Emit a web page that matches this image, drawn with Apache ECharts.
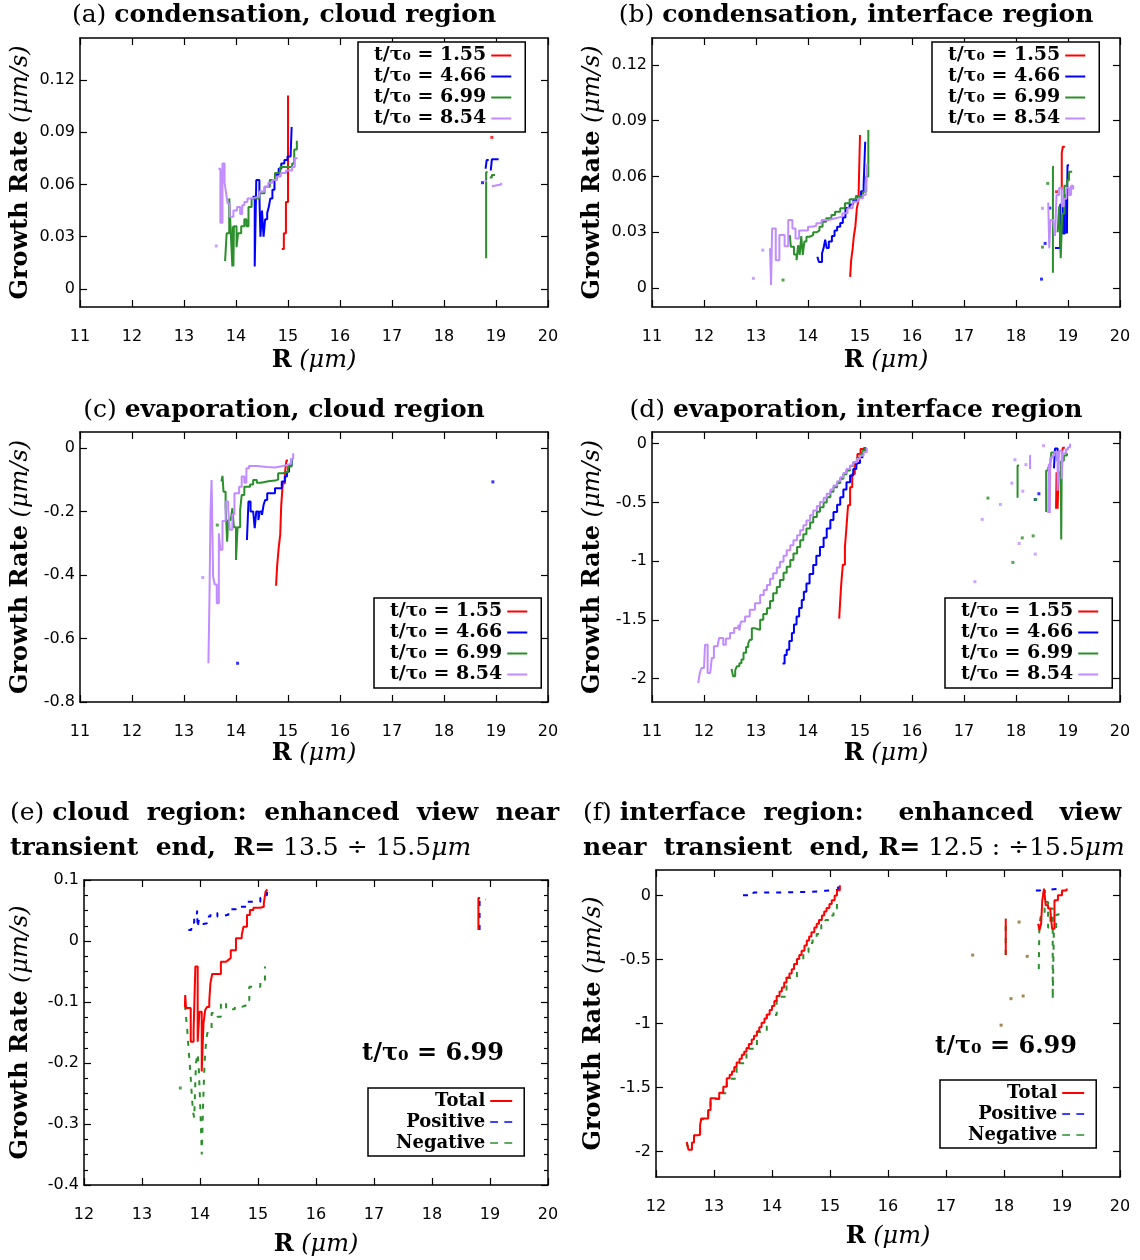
<!DOCTYPE html>
<html><head><meta charset="utf-8">
<script src="https://cdn.jsdelivr.net/npm/echarts@6/dist/echarts.min.js"></script>
<style>html,body{margin:0;padding:0;background:#fff}#c{width:1140px;height:1260px}</style>
</head><body><div id="c"></div><script>
// ---------- tick labels / categories ----------
const xTicksAD = [11,12,13,14,15,16,17,18,19,20];
const xTicksEF = [12,13,14,15,16,17,18,19,20];
const yTicksA = [0,0.03,0.06,0.09,0.12];
const yTicksB = [0,0.03,0.06,0.09,0.12];
const yTicksC = [0,-0.2,-0.4,-0.6,-0.8];
const yTicksD = [0,-0.5,-1,-1.5,-2];
const yTicksE = [0.1,0,-0.1,-0.2,-0.3,-0.4];
const yTicksF = [0,-0.5,-1,-1.5,-2];
const yMinorE = [0.075,0.05,0.025,-0.025,-0.05,-0.075,-0.125,-0.15,-0.175,-0.225,-0.25,-0.275,-0.325,-0.35,-0.375];
const timeNames = ['t/τ₀ = 1.55','t/τ₀ = 4.66','t/τ₀ = 6.99','t/τ₀ = 8.54'];
const compNames = ['Total','Positive','Negative'];

// ---------- panel (a) ----------
const a_t155 = [[[14.88,0.023],[14.92,0.032],[14.96,0.050],[15.0,0.111]]];
const a_t155_dots = [[18.92,0.087]];
const a_t466 = [
 [[14.32,0.053],[14.36,0.013],[14.39,0.0626],[14.45,0.053],[14.47,0.030],[14.50,0.045],[14.53,0.030],[14.56,0.040],[14.60,0.0436],[14.63,0.047],[14.66,0.052],[14.70,0.057],[14.74,0.0626],[14.78,0.0655],[14.82,0.069],[14.87,0.072],[14.93,0.074],[14.99,0.076],[15.05,0.076],[15.07,0.093]],
 [[18.80,0.069],[18.82,0.074],[18.86,0.074]],
 [[18.90,0.068],[18.92,0.0744],[19.05,0.0744]]];
const a_t466_dots = [[18.74,0.061]];
const a_t699 = [
 [[13.79,0.016],[13.82,0.032],[13.87,0.052],[13.90,0.032],[13.93,0.013],[13.94,0.036],[13.95,0.013],[13.96,0.036],[14.01,0.024],[14.04,0.032],[14.10,0.036],[14.16,0.040],[14.20,0.036],[14.24,0.047],[14.30,0.052],[14.37,0.052],[14.45,0.055],[14.55,0.0587],[14.65,0.0626],[14.75,0.0665],[14.85,0.070],[14.93,0.070],[15.08,0.072],[15.12,0.080],[15.17,0.085]],
 [[18.81,0.0176],[18.81,0.067],[18.84,0.067]],
 [[18.88,0.064],[18.92,0.0654],[18.98,0.0654]]];
const a_t854 = [
 [[13.66,0.069],[13.70,0.038],[13.74,0.072],[13.78,0.061],[13.81,0.055],[13.84,0.049],[13.88,0.0415],[13.95,0.045],[14.02,0.047],[14.08,0.043],[14.12,0.048],[14.16,0.050],[14.22,0.052],[14.30,0.053],[14.45,0.056],[14.55,0.0587],[14.62,0.061],[14.70,0.0626],[14.78,0.0645],[14.86,0.0665],[14.96,0.068],[15.08,0.070],[15.13,0.075],[15.17,0.0755]],
 [[18.78,0.062],[18.82,0.062]],
 [[18.92,0.059],[18.95,0.060],[19.10,0.061]]];
const a_t854_dots = [[13.62,0.0247]];

// ---------- panel (b) ----------
const b_t155 = [
 [[14.81,0.006],[14.83,0.015],[14.86,0.0215],[14.88,0.0276],[14.91,0.033],[14.94,0.043],[14.97,0.047],[15.0,0.0823]],
 [[18.88,0.0527],[18.88,0.0726],[18.90,0.076],[18.94,0.076]]];
const b_t155_dots = [[18.78,0.0518]];
const b_t466 = [
 [[14.18,0.0168],[14.21,0.014],[14.27,0.0187],[14.30,0.0215],[14.33,0.026],[14.36,0.0215],[14.40,0.025],[14.46,0.028],[14.51,0.031],[14.56,0.033],[14.62,0.035],[14.67,0.038],[14.72,0.043],[14.80,0.045],[14.87,0.0473],[14.96,0.049],[15.02,0.052],[15.07,0.0554],[15.10,0.0787]],
 [[18.75,0.0215],[18.80,0.0215],[18.85,0.045],[18.90,0.0294],[18.94,0.05],[18.98,0.0294],[18.99,0.066],[19.02,0.066]]];
const b_t466_dots = [[18.49,0.0048],[18.56,0.024],[18.65,0.043]];
const b_t699 = [
 [[13.65,0.0285],[13.67,0.0222],[13.73,0.018],[13.78,0.015],[13.81,0.023],[13.84,0.0178],[13.87,0.028],[13.90,0.0178],[13.93,0.025],[13.97,0.0276],[14.03,0.0285],[14.10,0.030],[14.17,0.031],[14.22,0.033],[14.28,0.0357],[14.35,0.0375],[14.45,0.0393],[14.52,0.041],[14.62,0.0429],[14.71,0.0456],[14.80,0.0477],[14.92,0.0495],[15.06,0.0518],[15.12,0.060],[15.16,0.085]],
 [[18.71,0.0082],[18.71,0.0653],[18.73,0.0653]],
 [[18.80,0.030],[18.83,0.044],[18.86,0.016],[18.89,0.040],[18.93,0.055],[18.98,0.058],[19.02,0.0626],[19.08,0.0626]]];
const b_t699_dots = [[13.52,0.0043],[18.61,0.0563],[18.51,0.022]];
const b_t854 = [
 [[13.27,0.0214],[13.29,0.0016],[13.31,0.032],[13.38,0.015],[13.45,0.0285],[13.55,0.0225],[13.62,0.0366],[13.70,0.032],[13.76,0.0267],[13.83,0.031],[13.92,0.031],[14.00,0.033],[14.08,0.0335],[14.16,0.0348],[14.26,0.0366],[14.40,0.0375],[14.53,0.0384],[14.66,0.0402],[14.76,0.0429],[14.86,0.0464],[14.96,0.0483],[15.06,0.050],[15.11,0.053],[15.14,0.067]],
 [[18.62,0.046],[18.64,0.0214],[18.66,0.0366],[18.72,0.035],[18.75,0.028],[18.78,0.050],[18.83,0.054],[18.88,0.044],[18.92,0.048],[18.97,0.054],[19.02,0.050],[19.06,0.055],[19.10,0.053]]];
const b_t854_dots = [[13.13,0.0204],[12.95,0.0052],[18.51,0.0429]];

// ---------- panel (c) ----------
const c_t155 = [[[14.77,-0.434],[14.79,-0.374],[14.82,-0.316],[14.85,-0.274],[14.87,-0.18],[14.90,-0.111],[14.94,-0.08],[14.97,-0.040],[15.0,-0.040]]];
const c_t466 = [[[14.21,-0.29],[14.24,-0.169],[14.28,-0.20],[14.33,-0.20],[14.36,-0.253],[14.39,-0.20],[14.43,-0.227],[14.46,-0.20],[14.50,-0.211],[14.53,-0.18],[14.56,-0.164],[14.60,-0.143],[14.70,-0.143],[14.75,-0.127],[14.83,-0.127],[14.88,-0.106],[14.94,-0.09],[14.98,-0.075],[15.02,-0.055],[15.07,-0.0325]]];
const c_t466_dots = [[14.03,-0.678],[18.94,-0.107]];
const c_t699 = [[[13.72,-0.106],[13.74,-0.088],[13.76,-0.138],[13.80,-0.185],[13.83,-0.295],[13.85,-0.227],[13.90,-0.227],[13.93,-0.19],[13.96,-0.25],[14.00,-0.353],[14.03,-0.25],[14.08,-0.195],[14.11,-0.148],[14.16,-0.122],[14.27,-0.115],[14.33,-0.101],[14.40,-0.11],[14.48,-0.105],[14.62,-0.103],[14.75,-0.10],[14.81,-0.08],[14.90,-0.075],[15.0,-0.059],[15.07,-0.04]]];
const c_t699_dots = [[13.64,-0.243]];
const c_t854 = [[[13.47,-0.678],[13.49,-0.468],[13.51,-0.2],[13.53,-0.101],[13.56,-0.405],[13.59,-0.43],[13.63,-0.489],[13.67,-0.269],[13.70,-0.321],[13.74,-0.23],[13.80,-0.169],[13.85,-0.19],[13.88,-0.258],[13.93,-0.21],[13.97,-0.143],[14.06,-0.122],[14.11,-0.09],[14.16,-0.11],[14.20,-0.064],[14.25,-0.057],[14.40,-0.06],[14.60,-0.062],[14.75,-0.057],[14.90,-0.053],[15.0,-0.05],[15.06,-0.035],[15.10,-0.017]]];
const c_t854_dots = [[13.36,-0.408]];

// ---------- panel (d) ----------
const d_t155 = [
 [[14.60,-1.49],[14.62,-1.33],[14.64,-1.19],[14.67,-1.03],[14.71,-0.879],[14.74,-0.709],[14.77,-0.525],[14.81,-0.37],[14.85,-0.257],[14.90,-0.172],[14.95,-0.087],[15.01,-0.045],[15.08,-0.03]],
 [[18.77,-0.553],[18.78,-0.243],[18.80,-0.553],[18.82,-0.243],[18.84,-0.243]],
 [[18.88,-0.087],[18.90,-0.035],[18.94,-0.035]]];
const d_t466 = [
 [[13.51,-1.873],[13.55,-1.80],[13.59,-1.754],[13.64,-1.68],[13.69,-1.613],[13.73,-1.54],[13.78,-1.472],[13.83,-1.40],[13.88,-1.331],[13.92,-1.26],[13.97,-1.19],[14.03,-1.11],[14.10,-1.034],[14.16,-0.955],[14.23,-0.879],[14.30,-0.80],[14.36,-0.723],[14.43,-0.65],[14.49,-0.582],[14.56,-0.52],[14.62,-0.455],[14.68,-0.39],[14.74,-0.328],[14.81,-0.27],[14.87,-0.215],[14.93,-0.165],[15.0,-0.116],[15.05,-0.07],[15.10,-0.027]],
 [[18.73,-0.21],[18.75,-0.04],[18.78,-0.04],[18.80,-0.15],[18.82,-0.08]]];
const d_t466_dots = [[18.44,-0.426],[18.37,-0.475]];
const d_t699 = [
 [[12.53,-1.918],[12.56,-1.98],[12.60,-1.93],[12.63,-1.896],[12.68,-1.87],[12.72,-1.839],[12.76,-1.78],[12.81,-1.732],[12.85,-1.70],[12.88,-1.67],[12.92,-1.571],[12.97,-1.58],[13.04,-1.585],[13.08,-1.50],[13.14,-1.45],[13.21,-1.401],[13.27,-1.34],[13.33,-1.274],[13.40,-1.22],[13.46,-1.161],[13.53,-1.10],[13.59,-1.048],[13.66,-0.99],[13.72,-0.935],[13.79,-0.88],[13.85,-0.822],[13.91,-0.77],[13.97,-0.723],[14.04,-0.67],[14.10,-0.625],[14.17,-0.58],[14.23,-0.540],[14.30,-0.50],[14.36,-0.455],[14.43,-0.41],[14.49,-0.370],[14.56,-0.335],[14.62,-0.299],[14.68,-0.26],[14.74,-0.229],[14.81,-0.19],[14.87,-0.158],[14.94,-0.12],[15.0,-0.087],[15.05,-0.06],[15.10,-0.03]],
 [[18.03,-0.46],[18.03,-0.186],[18.06,-0.186]],
 [[18.58,-0.582],[18.58,-0.229],[18.62,-0.20],[18.66,-0.17],[18.68,-0.074],[18.75,-0.074]],
 [[18.86,-0.144],[18.87,-0.816],[18.88,-0.144],[18.92,-0.10],[18.98,-0.08]]];
const d_t699_dots = [[17.46,-0.463],[18.12,-0.802],[18.33,-0.785],[17.94,-1.011],[18.38,-0.475]];
const d_t854 = [
 [[11.89,-2.037],[11.92,-1.952],[11.95,-1.91],[12.0,-1.896],[12.02,-1.712],[12.05,-1.712],[12.07,-1.952],[12.12,-1.952],[12.15,-1.825],[12.19,-1.726],[12.26,-1.726],[12.29,-1.655],[12.33,-1.655],[12.37,-1.712],[12.42,-1.66],[12.50,-1.613],[12.58,-1.57],[12.66,-1.542],[12.68,-1.59],[12.71,-1.514],[12.79,-1.472],[12.88,-1.415],[12.98,-1.359],[13.08,-1.288],[13.15,-1.245],[13.21,-1.203],[13.27,-1.15],[13.33,-1.104],[13.40,-1.055],[13.46,-1.006],[13.53,-0.955],[13.59,-0.907],[13.66,-0.865],[13.72,-0.822],[13.79,-0.78],[13.85,-0.737],[13.91,-0.695],[13.97,-0.653],[14.04,-0.61],[14.10,-0.568],[14.17,-0.53],[14.23,-0.497],[14.30,-0.46],[14.36,-0.426],[14.43,-0.39],[14.49,-0.356],[14.56,-0.32],[14.62,-0.285],[14.68,-0.25],[14.74,-0.215],[14.81,-0.185],[14.87,-0.158],[14.94,-0.13],[15.0,-0.102],[15.07,-0.07],[15.13,-0.037]],
 [[18.27,-0.215],[18.27,-0.102],[18.29,-0.102]],
 [[18.62,-0.59],[18.63,-0.17],[18.65,-0.59],[18.66,-0.12],[18.70,-0.10],[18.74,-0.07],[18.80,-0.40],[18.83,-0.06],[18.88,-0.30],[18.90,-0.08],[18.96,-0.05],[19.00,-0.03],[19.04,0.0]]];
const d_t854_dots = [[18.53,-0.017],[17.98,-0.136],[18.19,-0.178],[17.92,-0.336],[18.13,-0.404],[17.70,-0.517],[17.35,-0.644],[18.06,-0.85],[18.37,-0.94],[17.21,-1.175]];

// ---------- panel (e) t/tau0 = 6.99 ----------
const e_total = [
 [[13.74,-0.108],[13.745,-0.0885],[13.76,-0.110],[13.84,-0.165],[13.89,-0.146],[13.92,-0.042],[13.96,-0.165],[13.99,-0.116],[14.03,-0.214],[14.06,-0.135],[14.09,-0.113],[14.12,-0.108],[14.16,-0.098],[14.18,-0.069],[14.21,-0.054],[14.36,-0.034],[14.45,-0.031],[14.49,-0.028],[14.53,-0.015],[14.62,0.0044],[14.72,0.0098],[14.75,0.0235],[14.81,0.0426],[14.86,0.0508],[14.92,0.0546],[15.04,0.0562],[15.10,0.0618],[15.13,0.0808],[15.16,0.0847]],
 [[18.80,0.018],[18.80,0.0705],[18.83,0.0705]]];
const e_pos = [
 [[13.80,0.018],[13.85,0.030],[13.90,0.045],[13.95,0.050],[13.96,0.022],[13.98,0.035],[14.01,0.028],[14.06,0.029],[14.12,0.040],[14.18,0.045],[14.24,0.046],[14.30,0.040],[14.35,0.043],[14.49,0.052],[14.62,0.056],[14.82,0.0645],[15.04,0.071],[15.12,0.075],[15.155,0.085]],
 [[18.82,0.018],[18.82,0.068],[18.92,0.068]]];
const e_neg = [
 [[13.74,-0.105],[13.76,-0.125],[13.78,-0.146],[13.80,-0.173],[13.82,-0.198],[13.84,-0.225],[13.86,-0.255],[13.88,-0.28],[13.90,-0.29],[13.93,-0.20],[13.96,-0.185],[13.98,-0.211],[14.00,-0.26],[14.02,-0.315],[14.03,-0.35],[14.05,-0.28],[14.07,-0.22],[14.09,-0.181],[14.12,-0.154],[14.15,-0.143],[14.20,-0.118],[14.30,-0.124],[14.36,-0.101],[14.45,-0.112],[14.60,-0.108],[14.72,-0.105],[14.81,-0.097],[14.85,-0.075],[15.04,-0.064],[15.12,-0.042]]];
const e_neg_dots = [[13.66,-0.241]];

// ---------- panel (f) t/tau0 = 6.99 ----------
const f_total = [
 [[12.53,-1.927],[12.56,-1.987],[12.62,-1.93],[12.655,-1.874],[12.72,-1.87],[12.76,-1.795],[12.78,-1.743],[12.86,-1.743],[12.90,-1.677],[12.94,-1.585],[13.02,-1.59],[13.09,-1.541],[13.16,-1.494],[13.22,-1.428],[13.27,-1.40],[13.31,-1.375],[13.35,-1.34],[13.39,-1.305],[13.44,-1.275],[13.48,-1.244],[13.52,-1.22],[13.56,-1.192],[13.60,-1.16],[13.65,-1.126],[13.69,-1.095],[13.74,-1.061],[13.78,-1.03],[13.82,-0.995],[13.87,-0.96],[13.91,-0.929],[13.96,-0.895],[14.0,-0.864],[14.04,-0.825],[14.08,-0.785],[14.13,-0.75],[14.17,-0.719],[14.21,-0.68],[14.25,-0.640],[14.30,-0.61],[14.34,-0.575],[14.38,-0.535],[14.43,-0.496],[14.47,-0.465],[14.51,-0.431],[14.56,-0.39],[14.60,-0.352],[14.64,-0.32],[14.68,-0.286],[14.73,-0.25],[14.77,-0.22],[14.81,-0.19],[14.86,-0.155],[14.90,-0.125],[14.94,-0.097],[14.99,-0.065],[15.03,-0.037],[15.08,0.0],[15.12,0.042],[15.17,0.081]],
 [[18.03,-0.465],[18.03,-0.181],[18.04,-0.181]],
 [[18.59,-0.22],[18.61,-0.27],[18.64,-0.22],[18.66,-0.037],[18.69,0.055],[18.72,-0.076],[18.76,-0.10],[18.80,-0.128],[18.83,-0.26],[18.87,-0.037],[18.93,0.003],[19.0,0.04],[19.08,0.055]]];
const f_pos = [
 [[13.50,0.002],[13.68,0.024],[14.14,0.029],[14.66,0.037],[14.91,0.042],[15.10,0.05],[15.14,0.076]],
 [[18.55,0.04],[18.62,0.055],[18.66,0.02],[18.70,0.045],[18.76,0.05],[18.85,0.052],[18.92,0.05]]];
const f_neg = [
 [[12.53,-1.93],[12.56,-1.99],[12.62,-1.935],[12.655,-1.878],[12.72,-1.874],[12.76,-1.80],[12.78,-1.748],[12.86,-1.748],[12.90,-1.68],[12.94,-1.59],[13.09,-1.545],[13.22,-1.432],[13.39,-1.31],[13.56,-1.197],[13.74,-1.066],[13.91,-0.934],[14.08,-0.79],[14.25,-0.645],[14.43,-0.50],[14.54,-0.443],[14.63,-0.37],[14.70,-0.33],[14.77,-0.30],[14.85,-0.23],[14.92,-0.19],[15.0,-0.155],[15.06,-0.10],[15.12,-0.05]],
 [[18.03,-0.465],[18.03,-0.181],[18.04,-0.181]],
 [[18.60,-0.575],[18.61,-0.22],[18.64,-0.15],[18.70,-0.05],[18.76,-0.25],[18.80,-0.10],[18.84,-0.81],[18.86,-0.26],[18.90,-0.15],[18.94,-0.09]]];
const f_dots = [[17.46,-0.465],[18.26,-0.207],[18.40,-0.475],[18.12,-0.806],[18.33,-0.785],[17.95,-1.013]];

// ---------- styling / layout ----------
const SERIF = '"DejaVu Serif","Liberation Serif",serif';
const SANS = '"DejaVu Sans","Liberation Sans",sans-serif';
const RED='#ff0000', BLUE='#0000ff', GREEN='#2b8f2b', PURPLE='#c08cff', BROWN='#8a6a2a';

const panels = [
 {l:80, t:38, w:468, h:269, x:[11,20], y:[-0.0103,0.144], xt:xTicksAD, yt:yTicksA, yGap:47, xGap:42},
 {l:652,t:38, w:468, h:269, x:[11,20], y:[-0.0102,0.1345], xt:xTicksAD, yt:yTicksB, yGap:47, xGap:42},
 {l:80, t:432,w:468, h:270, x:[11,20], y:[-0.8,0.05], xt:xTicksAD, yt:yTicksC, yGap:47, xGap:40},
 {l:652,t:432,w:468, h:270, x:[11,20], y:[-2.2,0.1], xt:xTicksAD, yt:yTicksD, yGap:47, xGap:40},
 {l:84, t:880,w:464, h:305, x:[12,20], y:[-0.4,0.1], xt:xTicksEF, yt:yTicksE, ym:yMinorE, yGap:51, xGap:48},
 {l:656,t:870,w:464, h:307, x:[12,20], y:[-2.2,0.2], xt:xTicksEF, yt:yTicksF, yGap:50, xGap:48}
];

const groups = [
 [ {name:timeNames[0],c:RED,segs:a_t155,dots:a_t155_dots},{name:timeNames[1],c:BLUE,segs:a_t466,dots:a_t466_dots},{name:timeNames[2],c:GREEN,segs:a_t699},{name:timeNames[3],c:PURPLE,segs:a_t854,dots:a_t854_dots} ],
 [ {name:timeNames[0],c:RED,segs:b_t155,dots:b_t155_dots},{name:timeNames[1],c:BLUE,segs:b_t466,dots:b_t466_dots},{name:timeNames[2],c:GREEN,segs:b_t699,dots:b_t699_dots},{name:timeNames[3],c:PURPLE,segs:b_t854,dots:b_t854_dots} ],
 [ {name:timeNames[0],c:RED,segs:c_t155},{name:timeNames[1],c:BLUE,segs:c_t466,dots:c_t466_dots},{name:timeNames[2],c:GREEN,segs:c_t699,dots:c_t699_dots},{name:timeNames[3],c:PURPLE,segs:c_t854,dots:c_t854_dots} ],
 [ {name:timeNames[0],c:RED,segs:d_t155},{name:timeNames[1],c:BLUE,segs:d_t466,dots:d_t466_dots},{name:timeNames[2],c:GREEN,segs:d_t699,dots:d_t699_dots},{name:timeNames[3],c:PURPLE,segs:d_t854,dots:d_t854_dots} ],
 [ {name:compNames[2],c:GREEN,segs:e_neg,dots:e_neg_dots,dash:true},{name:compNames[1],c:BLUE,segs:e_pos,dash:true},{name:compNames[0],c:RED,segs:e_total} ],
 [ {name:compNames[2],c:GREEN,segs:f_neg,dash:true,dots:f_dots,dotColor:BROWN},{name:compNames[1],c:BLUE,segs:f_pos,dash:true},{name:compNames[0],c:RED,segs:f_total} ]
];

const fmt = v => String(parseFloat((+v).toFixed(3)));
const grid=[], xAxis=[], yAxis=[], series=[];
const axisLine = {show:true,onZero:false,lineStyle:{color:'#000',width:1.5}};
const nameRich = {
 b:{fontFamily:SERIF,fontWeight:'bold',fontSize:24,color:'#000'},
 i:{fontFamily:SERIF,fontStyle:'italic',fontSize:24,color:'#000'}
};
const tick = (vals,len) => ({show:true,inside:true,length:len||7,lineStyle:{color:'#000',width:1.2},customValues:vals});
function yIdx(i){ let k=0; for(let j=0;j<i;j++){ k+= panels[j].ym?4:2; } return k; }
panels.forEach((p,i)=>{
 grid.push({left:p.l,top:p.t,width:p.w,height:p.h,show:false});
 xAxis.push({gridIndex:i,type:'value',min:p.x[0],max:p.x[1],position:'bottom',axisLine,
  axisTick:tick(p.xt),splitLine:{show:false},
  axisLabel:{show:true,customValues:p.xt,formatter:fmt,margin:22,color:'#000',fontFamily:SANS,fontSize:16},
  name:'{b|R} {i|(μm)}',nameLocation:'middle',nameGap:p.xGap,nameTextStyle:{fontSize:24,fontFamily:SERIF,rich:nameRich}});
 xAxis.push({gridIndex:i,type:'value',min:p.x[0],max:p.x[1],position:'top',axisLine,
  axisTick:tick(p.xt),splitLine:{show:false},axisLabel:{show:false}});
 yAxis.push({gridIndex:i,type:'value',min:p.y[0],max:p.y[1],position:'left',axisLine,
  axisTick:tick(p.yt),splitLine:{show:false},
  axisLabel:{show:true,customValues:p.yt,formatter:fmt,margin:5,color:'#000',fontFamily:SANS,fontSize:16},
  name:'{b|Growth Rate} {i|(μm/s)}',nameLocation:'middle',nameGap:p.yGap,nameRotate:90,nameTextStyle:{fontSize:24,fontFamily:SERIF,rich:nameRich}});
 yAxis.push({gridIndex:i,type:'value',min:p.y[0],max:p.y[1],position:'right',axisLine,
  axisTick:tick(p.yt),splitLine:{show:false},axisLabel:{show:false}});
 if(p.ym){
  ['left','right'].forEach(pos=>yAxis.push({gridIndex:i,type:'value',min:p.y[0],max:p.y[1],position:pos,
   axisLine:{show:false},axisTick:tick(p.ym,4),splitLine:{show:false},axisLabel:{show:false}}));
 }
 groups[i].forEach(g=>{
  g.segs.forEach(seg=>{
   series.push({type:'line',name:g.name,xAxisIndex:2*i,yAxisIndex:yIdx(i),data:seg,step:'end',
    symbol:'none',showSymbol:false,silent:true,
    lineStyle:{color:g.c,width:2,type:g.dash?[5,7]:'solid'},itemStyle:{color:g.c}});
  });
  if(g.dots){
   series.push({type:'scatter',name:g.name,xAxisIndex:2*i,yAxisIndex:yIdx(i),data:g.dots,symbol:'rect',symbolSize:3,silent:true,
    itemStyle:{color:g.dotColor||g.c}});
  }
 });
});

const legendBase = {orient:'vertical',align:'right',itemWidth:20,itemHeight:2,itemGap:2,
  padding:[4,14,4,16],borderColor:'#000',borderWidth:1.5,borderRadius:0,backgroundColor:'#fff',selectedMode:false,
  textStyle:{fontFamily:SERIF,fontWeight:'bold',fontSize:19,color:'#000'}};
const timeLegend = (left,top)=>Object.assign({},legendBase,{left,top,data:timeNames.map(n=>({name:n,icon:'rect'}))});
const dashIcon = 'path://M0,0H5V1H0Z M9,0H14V1H9Z';
const compLegend = (left,top)=>Object.assign({},legendBase,{left,top,padding:[4,12,4,28],itemWidth:22,itemGap:3,
  data:[{name:compNames[0],icon:'rect'},{name:compNames[1],icon:dashIcon},{name:compNames[2],icon:dashIcon}],
  textStyle:{fontFamily:SERIF,fontWeight:'bold',fontSize:18,color:'#000'}});
const legend = [timeLegend(358,42),timeLegend(932,42),timeLegend(374,598),timeLegend(945,598),compLegend(368,1088),compLegend(940,1080)];

const tRich = {
 n:{fontFamily:SERIF,fontSize:25,color:'#000'},
 b:{fontFamily:SERIF,fontWeight:'bold',fontSize:25,color:'#000'},
 i:{fontFamily:SERIF,fontStyle:'italic',fontSize:25,color:'#000'}
};
const txt = (x,y,text,align,rich)=>({type:'text',x,y,silent:true,style:{text,rich:rich||tRich,align:align||'center',verticalAlign:'middle',textAlign:align||'center',textVerticalAlign:'middle',fontFamily:SERIF,fontSize:25,fill:'#000'}});
const bigRich = {b:{fontFamily:SERIF,fontWeight:'bold',fontSize:24,color:'#000'}};
const graphic = [
 txt(284,15,'{n|(a)} {b|condensation, cloud region}'),
 txt(856,15,'{n|(b)} {b|condensation, interface region}'),
 txt(284,410,'{n|(c)} {b|evaporation, cloud region}'),
 txt(856,410,'{n|(d)} {b|evaporation, interface region}'),
 txt(10,813,'{n|(e)} {b|cloud  region:  enhanced  view  near}','left'),
 txt(10,848,'{b|transient  end,  R=} {n|13.5 ÷ 15.5}{i|μm}','left'),
 txt(583,813,'{n|(f)} {b|interface  region:    enhanced   view}','left'),
 txt(583,848,'{b|near  transient  end, R=} {n|12.5 : ÷15.5}{i|μm}','left'),
 txt(433,1054,'{b|t/τ₀ = 6.99}','center',bigRich),
 txt(1006,1047,'{b|t/τ₀ = 6.99}','center',bigRich)
];

const chart = echarts.init(document.getElementById('c'),null,{renderer:'canvas'});
chart.setOption({animation:false,backgroundColor:'#fff',grid,xAxis,yAxis,series,legend,graphic});
</script></body></html>
